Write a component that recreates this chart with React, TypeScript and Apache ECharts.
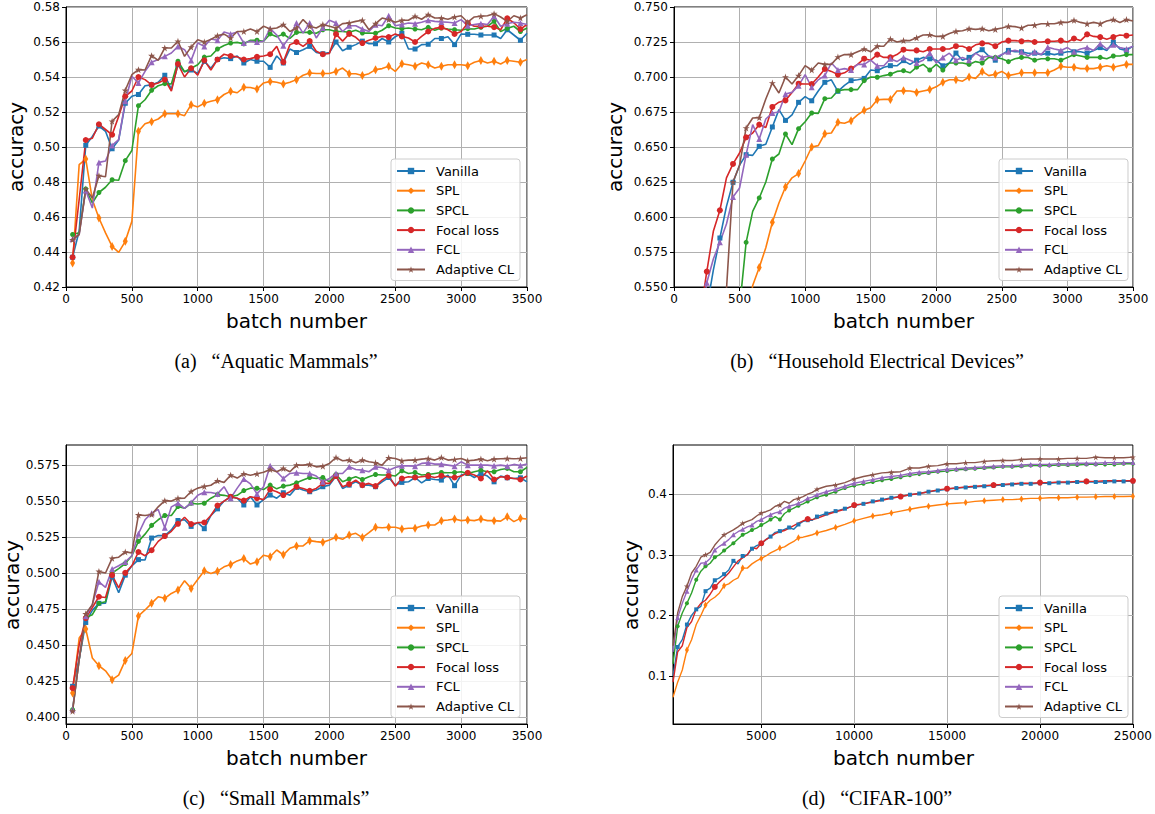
import React, { useEffect, useRef } from 'react';
import * as echarts from 'echarts';

// ---------- x values ----------
const X_ABC: number[] = Array.from({ length: 70 }, (_, i) => 50 + 50 * i);
const X_D: number[] = [
  ...Array.from({ length: 32 }, (_, i) => 250 + 250 * i),
  ...Array.from({ length: 34 }, (_, i) => 8500 + 500 * i),
];

const NAMES = ['Vanilla', 'SPL', 'SPCL', 'Focal loss', 'FCL', 'Adaptive CL'];
const COLORS = ['#1f77b4', '#ff7f0e', '#2ca02c', '#d62728', '#9467bd', '#8c564b'];

// ---------- (a) Aquatic Mammals ----------
const A_VANILLA = [.437, .452, .501, .506, .512, .509, .499, .504, .525, .529, .530, .535, .5355, .537, .541, .533, .547, .543, .544, .542, .549, .545, .550, .551, .5505, .552, .548, .550, .549, .549, .5455, .552, .548, .556, .554, .5556, .5575, .554, .5533, .554, .560, .555, .557, .5585, .5605, .559, .559, .562, .560, .563, .565, .556, .556, .5585, .5587, .562, .562, .563, .5585, .5646, .5644, .5644, .564, .564, .564, .562, .567, .564, .561, .565];
const A_SPL = [.4337, .4899, .4931, .4699, .4594, .4509, .4432, .4398, .4461, .4575, .509, .5133, .5145, .516, .519, .519, .519, .5179, .5242, .5229, .525, .5261, .527, .530, .5318, .531, .5341, .534, .5331, .5366, .5375, .537, .536, .537, .5385, .541, .5423, .542, .542, .542, .5432, .5451, .5419, .5419, .5408, .5419, .5442, .5448, .5461, .5432, .5476, .547, .5461, .548, .547, .5451, .5461, .547, .547, .547, .5465, .5484, .5494, .548, .549, .5474, .5495, .549, .5484, .550];
const A_SPCL = [.450, .451, .476, .468, .474, .477, .4813, .481, .4922, .498, .5236, .527, .5324, .535, .5362, .536, .549, .543, .545, .547, .5514, .552, .556, .558, .5594, .5598, .5589, .561, .561, .5604, .5646, .563, .5645, .562, .5655, .5655, .5655, .565, .567, .567, .566, .566, .5656, .5667, .5651, .5651, .565, .5667, .5693, .568, .5676, .568, .5674, .567, .5684, .5667, .568, .5674, .567, .5667, .5676, .5674, .5684, .569, .5718, .566, .5678, .569, .566, .568];
const A_FOCAL = [.437, .47, .504, .505, .513, .510, .507, .5175, .529, .532, .540, .5385, .5355, .5366, .5385, .532, .5474, .540, .545, .541, .5495, .544, .550, .553, .552, .5515, .550, .5505, .5515, .552, .553, .5575, .5485, .5585, .560, .5575, .5605, .5547, .553, .5535, .5645, .5605, .5646, .5627, .5594, .561, .5623, .5632, .5628, .5646, .5632, .5623, .560, .5632, .566, .5678, .5684, .567, .5646, .566, .5707, .569, .569, .569, .5685, .567, .5735, .571, .5674, .570];
const A_FCL = [.4474, .450, .4752, .4651, .4912, .492, .5009, .5042, .5261, .5404, .5366, .5432, .5484, .550, .5518, .5537, .5575, .5556, .5495, .5594, .5575, .5617, .561, .5657, .5646, .5657, .5594, .5604, .560, .5604, .5676, .564, .5579, .5632, .5709, .5651, .5709, .5623, .568, .5724, .5709, .566, .5693, .5693, .5674, .566, .5699, .5693, .575, .5693, .570, .5709, .5705, .5713, .5724, .5718, .5715, .5713, .5709, .5728, .5693, .570, .5705, .570, .5747, .569, .5705, .5713, .5709, .570];
const A_ADAPT = [.447, .450, .476, .4709, .4836, .483, .5147, .5185, .5324, .5413, .5442, .544, .5522, .5495, .5566, .5566, .5604, .5518, .5571, .5613, .560, .5615, .5636, .5645, .5623, .566, .566, .5674, .566, .569, .5675, .568, .5699, .566, .568, .5728, .569, .568, .570, .569, .568, .5705, .5709, .5718, .5724, .567, .5705, .5737, .5728, .5713, .5724, .5724, .5747, .573, .5756, .5737, .5737, .573, .5743, .575, .5713, .5743, .5747, .575, .5762, .5743, .5718, .575, .5737, .5756];

// ---------- (b) Household Electrical Devices ----------
const B_VANILLA = [null, null, null, null, .535, .562, .585, .6076, .6248, .637, .6445, .644, .6505, .652, .6643, .6767, .669, .673, .6819, .686, .683, .690, .6962, .698, .6898, .694, .6974, .698, .699, .705, .7045, .707, .7081, .708, .7117, .709, .712, .714, .713, .712, .708, .710, .7171, .712, .714, .717, .7195, .715, .712, .716, .719, .718, .718, .717, .717, .716, .717, .716, .717, .718, .718, .718, .717, .719, .721, .719, .725, .720, .719, .722];
const B_SPL = [null, null, null, null, null, null, null, null, null, null, .52, .551, .564, .578, .5962, .610, .6214, .628, .631, .640, .650, .651, .6595, .660, .6676, .667, .6688, .673, .6762, .678, .6838, .684, .684, .690, .6902, .690, .689, .690, .691, .693, .6962, .698, .698, .697, .700, .699, .704, .701, .702, .704, .701, .702, .703, .703, .703, .703, .703, .705, .7076, .707, .707, .706, .706, .706, .707, .708, .707, .708, .709, .709];
const B_SPCL = [null, null, null, null, null, null, null, null, null, .535, .5819, .604, .6136, .625, .6414, .645, .6593, .6517, .6631, .668, .6743, .674, .6845, .685, .6902, .691, .691, .691, .6974, .700, .6998, .701, .702, .704, .7045, .703, .707, .709, .705, .709, .705, .710, .710, .710, .709, .711, .710, .714, .714, .713, .711, .713, .714, .714, .712, .713, .713, .713, .712, .714, .716, .715, .714, .714, .714, .713, .715, .715, .716, .716];
const B_FOCAL = [null, null, null, .53, .561, .5898, .6048, .6279, .6379, .6457, .6569, .660, .666, .664, .6786, .682, .6833, .689, .6952, .695, .695, .700, .7057, .704, .7017, .703, .706, .709, .7131, .712, .716, .714, .714, .716, .7195, .719, .719, .718, .720, .720, .720, .720, .722, .722, .720, .723, .724, .724, .722, .725, .726, .726, .7255, .726, .725, .725, .7255, .7255, .726, .725, .7275, .726, .7305, .729, .7285, .727, .7285, .730, .7295, .730];
const B_FCL = [null, null, null, .52, .553, .570, .5819, .595, .6143, .6207, .6445, .666, .6557, .670, .6743, .675, .6879, .689, .6938, .7017, .6926, .698, .701, .710, .705, .706, .705, .709, .709, .712, .708, .708, .713, .711, .714, .712, .710, .712, .7171, .710, .714, .717, .7119, .714, .712, .717, .714, .715, .714, .716, .718, .719, .718, .715, .718, .716, .7212, .720, .719, .721, .718, .720, .721, .719, .7238, .720, .723, .721, .720, .722];
const B_ADAPT = [null, null, null, null, null, null, .30, .548, .625, .637, .6636, .6707, .671, .6843, .6957, .6886, .700, .695, .701, .7081, .705, .710, .709, .709, .7143, .716, .716, .718, .720, .718, .722, .722, .7271, .725, .726, .726, .728, .730, .7302, .729, .729, .731, .7326, .733, .7345, .734, .7345, .733, .734, .735, .7362, .736, .735, .737, .737, .738, .738, .738, .739, .739, .7405, .739, .738, .739, .738, .740, .741, .739, .741, .740];

// ---------- (c) Small Mammals ----------
const C_VANILLA = [.4212, .44, .4656, .474, .4789, .479, .4973, .4863, .4985, .505, .5093, .509, .5243, .526, .526, .530, .5365, .537, .5324, .535, .5308, .540, .5446, .550, .5531, .552, .5473, .553, .5473, .551, .5542, .552, .5558, .554, .5595, .5577, .5565, .5577, .560, .5611, .5674, .5588, .5611, .5634, .5611, .5611, .560, .5634, .5664, .5611, .563, .5634, .5664, .5627, .5657, .565, .5646, .5681, .5607, .5681, .5692, .5664, .5692, .5674, .5634, .5674, .5662, .5657, .5662, .5634];
const C_SPL = [.4166, .4548, .461, .4409, .4355, .432, .4258, .429, .4392, .444, .4701, .4743, .4789, .4835, .4824, .4858, .4881, .4946, .4893, .4955, .5015, .4997, .5013, .5043, .5059, .5084, .5101, .5062, .5078, .5124, .5113, .516, .5126, .5172, .5188, .5188, .5225, .5218, .5213, .5229, .5248, .5234, .5264, .5276, .5246, .5281, .5318, .5315, .5318, .5318, .5306, .5311, .5311, .5327, .5334, .5334, .5364, .5368, .5375, .5364, .5368, .5364, .5375, .5364, .5364, .5361, .5391, .5357, .538, .5375];
const C_SPCL = [.405, .440, .469, .471, .4789, .480, .500, .503, .5066, .512, .522, .527, .5331, .537, .540, .540, .5462, .545, .5485, .548, .5485, .552, .5545, .554, .553, .554, .5573, .559, .5589, .558, .5611, .5585, .5604, .5611, .5627, .5646, .5664, .5657, .5664, .5634, .5685, .5634, .5653, .5669, .565, .5669, .5685, .5681, .5681, .5674, .5711, .5692, .5699, .5681, .5685, .5692, .5699, .5697, .5699, .5704, .5692, .5704, .5715, .5704, .5704, .572, .5727, .5704, .5704, .5734];
const C_FOCAL = [.420, .450, .4686, .476, .4835, .483, .4985, .4897, .5001, .505, .5146, .512, .5158, .522, .5257, .529, .5342, .5388, .534, .535, .5351, .540, .5469, .550, .553, .552, .5503, .553, .5521, .551, .5581, .5565, .5542, .5565, .560, .5588, .5572, .5588, .5623, .5623, .5674, .560, .5618, .5646, .5611, .5623, .5604, .5646, .5676, .5604, .5657, .5669, .5664, .5669, .5674, .5664, .5676, .5669, .5664, .5674, .5697, .5681, .5657, .5711, .565, .5669, .5664, .5657, .565, .5674];
const C_FCL = [.405, .440, .470, .478, .4939, .490, .5027, .505, .5077, .512, .5273, .537, .5416, .5441, .5314, .546, .5485, .545, .549, .554, .5561, .556, .555, .560, .552, .559, .5653, .562, .555, .560, .5745, .5704, .5657, .5692, .5697, .5692, .5692, .5674, .5634, .5657, .5692, .5692, .5738, .572, .5715, .5704, .5738, .5734, .5715, .5734, .5745, .5745, .5743, .5762, .5766, .5757, .5757, .575, .5743, .5773, .575, .575, .575, .575, .5745, .575, .5743, .5755, .5748, .5757];
const C_ADAPT = [.4039, .440, .4716, .478, .5011, .500, .5102, .511, .5146, .514, .5404, .540, .5407, .546, .5503, .550, .5519, .552, .5567, .559, .5602, .561, .5641, .563, .568, .566, .569, .568, .569, .570, .572, .5704, .5727, .5704, .575, .575, .5755, .5738, .5743, .5762, .5803, .578, .5785, .5766, .5785, .5773, .5766, .575, .5801, .5796, .578, .5785, .5785, .5792, .5796, .5785, .5803, .5785, .5789, .5796, .578, .5785, .5792, .578, .5792, .5794, .5796, .5794, .5796, .5801];

// ---------- (d) CIFAR-100 ----------
const D_VANILLA = [0.10, 0.148, 0.16, 0.185, 0.20, 0.21, 0.215, 0.24, 0.245, 0.258, 0.262, 0.268, 0.275, 0.29, 0.285, 0.298, 0.30, 0.31, 0.315, 0.318, 0.325, 0.33, 0.337, 0.339, 0.342, 0.345, 0.342, 0.35, 0.355, 0.357, 0.357, 0.363, 0.368, 0.372, 0.376, 0.381, 0.384, 0.388, 0.391, 0.394, 0.396, 0.399, 0.401, 0.404, 0.406, 0.408, 0.41, 0.411, 0.412, 0.413, 0.414, 0.415, 0.416, 0.417, 0.417, 0.418, 0.418, 0.419, 0.419, 0.42, 0.42, 0.42, 0.42, 0.421, 0.421, 0.421];
const D_SPL = [0.065, 0.09, 0.11, 0.143, 0.16, 0.185, 0.20, 0.217, 0.225, 0.23, 0.237, 0.249, 0.252, 0.258, 0.262, 0.278, 0.278, 0.285, 0.29, 0.294, 0.298, 0.303, 0.307, 0.311, 0.313, 0.318, 0.322, 0.328, 0.329, 0.331, 0.333, 0.336, 0.34, 0.345, 0.35, 0.356, 0.36, 0.364, 0.366, 0.369, 0.372, 0.375, 0.378, 0.38, 0.382, 0.384, 0.385, 0.386, 0.388, 0.389, 0.39, 0.391, 0.391, 0.392, 0.393, 0.393, 0.394, 0.394, 0.394, 0.395, 0.395, 0.3955, 0.396, 0.396, 0.396, 0.3966];
const D_SPCL = [0.12, 0.182, 0.204, 0.22, 0.237, 0.259, 0.273, 0.281, 0.286, 0.296, 0.3, 0.307, 0.313, 0.319, 0.326, 0.333, 0.336, 0.341, 0.344, 0.349, 0.353, 0.358, 0.363, 0.358, 0.368, 0.373, 0.377, 0.381, 0.384, 0.388, 0.391, 0.395, 0.399, 0.404, 0.41, 0.414, 0.417, 0.42, 0.423, 0.425, 0.428, 0.431, 0.433, 0.435, 0.437, 0.438, 0.44, 0.441, 0.442, 0.443, 0.444, 0.445, 0.445, 0.446, 0.447, 0.447, 0.447, 0.448, 0.448, 0.448, 0.449, 0.449, 0.449, 0.449, 0.45, 0.45];
const D_FOCAL = [0.09, 0.14, 0.15, 0.18, 0.19, 0.21, 0.22, 0.225, 0.235, 0.247, 0.255, 0.262, 0.27, 0.28, 0.29, 0.295, 0.30, 0.312, 0.31, 0.319, 0.325, 0.33, 0.335, 0.338, 0.34, 0.344, 0.348, 0.352, 0.356, 0.359, 0.358, 0.36, 0.366, 0.371, 0.375, 0.382, 0.384, 0.387, 0.39, 0.393, 0.396, 0.399, 0.401, 0.404, 0.407, 0.409, 0.41, 0.412, 0.413, 0.414, 0.415, 0.416, 0.417, 0.418, 0.418, 0.419, 0.419, 0.42, 0.42, 0.421, 0.421, 0.421, 0.422, 0.422, 0.422, 0.422];
const D_FCL = [0.14, 0.196, 0.22, 0.24, 0.259, 0.275, 0.286, 0.287, 0.294, 0.308, 0.314, 0.319, 0.325, 0.333, 0.338, 0.342, 0.346, 0.349, 0.355, 0.358, 0.362, 0.366, 0.369, 0.371, 0.377, 0.38, 0.382, 0.385, 0.388, 0.393, 0.395, 0.399, 0.404, 0.408, 0.413, 0.418, 0.421, 0.424, 0.427, 0.429, 0.431, 0.434, 0.436, 0.437, 0.439, 0.441, 0.442, 0.443, 0.444, 0.445, 0.446, 0.447, 0.447, 0.448, 0.449, 0.449, 0.449, 0.45, 0.45, 0.451, 0.451, 0.451, 0.452, 0.452, 0.452, 0.452];
const D_ADAPT = [0.15, 0.204, 0.231, 0.248, 0.27, 0.281, 0.296, 0.30, 0.304, 0.316, 0.325, 0.333, 0.337, 0.341, 0.346, 0.352, 0.355, 0.358, 0.364, 0.369, 0.371, 0.374, 0.38, 0.382, 0.388, 0.385, 0.391, 0.393, 0.396, 0.4, 0.403, 0.408, 0.413, 0.415, 0.419, 0.425, 0.429, 0.432, 0.435, 0.436, 0.437, 0.443, 0.443, 0.446, 0.447, 0.45, 0.45, 0.452, 0.452, 0.454, 0.455, 0.4555, 0.4555, 0.457, 0.458, 0.458, 0.458, 0.458, 0.459, 0.459, 0.459, 0.461, 0.46, 0.46, 0.46, 0.461];

const PANEL_A = [A_VANILLA, A_SPL, A_SPCL, A_FOCAL, A_FCL, A_ADAPT];
const PANEL_B = [B_VANILLA, B_SPL, B_SPCL, B_FOCAL, B_FCL, B_ADAPT];
const PANEL_C = [C_VANILLA, C_SPL, C_SPCL, C_FOCAL, C_FCL, C_ADAPT];
const PANEL_D = [D_VANILLA, D_SPL, D_SPCL, D_FOCAL, D_FCL, D_ADAPT];
const D_MARK_EVERY = [500, 1000, 500, 2500, 500, 1000];

const X_TICKS_D = [5000, 10000, 15000, 20000, 25000];
const Y_TICKS_C = [0.4, 0.425, 0.45, 0.475, 0.5, 0.525, 0.55, 0.575];
const Y_TICKS_D = [0.1, 0.2, 0.3, 0.4];

const STAR = 'path://M0,-10L2.24,-3.09L9.51,-3.09L3.63,1.18L5.88,8.09L0,3.82L-5.88,8.09L-3.63,1.18L-9.51,-3.09L-2.24,-3.09Z';
const THIN_DIAMOND = 'path://M0,-10L6,0L0,10L-6,0Z';
const SYMBOLS = ['rect', THIN_DIAMOND, 'circle', 'circle', 'triangle', STAR];
const SIZES_ABC: any[] = [5, [5, 9], 5, 6, 6, 7];
const SIZES_D: any[] = [4, [4, 7], 4, 6, 5, 6];

const FONT = 'DejaVu Sans';

function axisCommon() {
  return {
    axisLine: { show: true, onZero: false, lineStyle: { color: '#000', width: 1 } },
    axisTick: { show: true, length: 4, lineStyle: { color: '#000', width: 1 } },
    splitLine: { show: true, lineStyle: { color: '#b0b0b0', width: 1 } },
  };
}

function labelStyle(fmt: (v: number) => string) {
  return {
    color: '#000', fontSize: 12, fontFamily: FONT, margin: 6,
    showMinLabel: true, showMaxLabel: true, formatter: fmt,
  };
}

function buildOption() {
  const grids = [
    { left: 66, top: 7, width: 461, height: 280 },
    { left: 674, top: 7, width: 459, height: 280 },
    { left: 66, top: 445, width: 461, height: 279 },
    { left: 673, top: 445, width: 461, height: 279 },
  ].map((g) => ({ ...g, show: true, borderColor: '#000', borderWidth: 1, backgroundColor: 'transparent' }));

  const xAxes: any[] = [0, 1, 2].map((i) => ({
    type: 'value', gridIndex: i, min: 0, max: 3500, interval: 500,
    ...axisCommon(),
    axisLabel: labelStyle((v: number) => String(v)),
  }));
  xAxes.push({
    type: 'value', gridIndex: 3, min: 250, max: 25000,
    ...axisCommon(),
    axisTick: { show: true, length: 4, lineStyle: { color: '#000', width: 1 }, customValues: X_TICKS_D },
    axisLabel: { ...labelStyle((v: number) => String(v)), customValues: X_TICKS_D },
  });

  const yAxes: any[] = [
    {
      type: 'value', gridIndex: 0, min: 0.42, max: 0.58, interval: 0.02,
      ...axisCommon(), axisLabel: labelStyle((v: number) => v.toFixed(2)),
    },
    {
      type: 'value', gridIndex: 1, min: 0.55, max: 0.75, interval: 0.025,
      ...axisCommon(), axisLabel: labelStyle((v: number) => v.toFixed(3)),
    },
    {
      type: 'value', gridIndex: 2, min: 0.395, max: 0.589,
      ...axisCommon(),
      axisTick: { show: true, length: 4, lineStyle: { color: '#000', width: 1 }, customValues: Y_TICKS_C },
      axisLabel: { ...labelStyle((v: number) => v.toFixed(3)), customValues: Y_TICKS_C },
    },
    {
      type: 'value', gridIndex: 3, min: 0.021, max: 0.481,
      ...axisCommon(),
      axisTick: { show: true, length: 4, lineStyle: { color: '#000', width: 1 }, customValues: Y_TICKS_D },
      axisLabel: { ...labelStyle((v: number) => v.toFixed(1)), customValues: Y_TICKS_D },
    },
  ];

  const series: any[] = [];
  [PANEL_A, PANEL_B, PANEL_C].forEach((panel, pi) => {
    panel.forEach((vals, si) => {
      const size = SIZES_ABC[si];
      series.push({
        type: 'line', name: NAMES[si], xAxisIndex: pi, yAxisIndex: pi,
        data: X_ABC.map((x, k) => [x, vals[k]]),
        symbol: SYMBOLS[si],
        symbolSize: (_v: any, p: any) => (p.dataIndex % 2 === 0 ? size : 0),
        showSymbol: true, showAllSymbol: true,
        color: COLORS[si],
        itemStyle: { color: COLORS[si] },
        lineStyle: { color: COLORS[si], width: 1.6 },
        clip: true, connectNulls: false,
      });
    });
  });
  PANEL_D.forEach((vals, si) => {
    const size = SIZES_D[si];
    const every = D_MARK_EVERY[si];
    series.push({
      type: 'line', name: NAMES[si], xAxisIndex: 3, yAxisIndex: 3,
      data: X_D.map((x, k) => [x, vals[k]]),
      symbol: SYMBOLS[si],
      symbolSize: (v: any) => (v[0] % every === 0 ? size : 0),
      showSymbol: true, showAllSymbol: true,
      color: COLORS[si],
      itemStyle: { color: COLORS[si] },
      lineStyle: { color: COLORS[si], width: 1.4 },
      clip: true,
    });
  });

  const legendPos = [
    { left: 391, top: 159 },
    { left: 999, top: 159 },
    { left: 391, top: 596 },
    { left: 999, top: 596 },
  ];
  const legend = legendPos.map((p) => ({
    ...p,
    orient: 'vertical',
    data: NAMES,
    itemWidth: 28, itemHeight: 8, itemGap: 5.7,
    padding: [5, 6, 4, 5],
    backgroundColor: 'rgba(255,255,255,0.85)',
    borderColor: '#cccccc', borderWidth: 1, borderRadius: 3,
    selectedMode: false,
    textStyle: { fontFamily: FONT, fontSize: 13, color: '#000', lineHeight: 14, padding: [0, 0, 0, 6] },
  }));

  const txt = (x: number, y: number, text: string, size: number, family: string, rot = 0) => ({
    type: 'text', x, y, rotation: rot, silent: true,
    style: { text, fontSize: size, fontFamily: family, fill: '#000', align: 'center', verticalAlign: 'middle' },
  });

  const graphic = [
    txt(16, 147, 'accuracy', 20, FONT, Math.PI / 2),
    txt(615, 147, 'accuracy', 20, FONT, Math.PI / 2),
    txt(12, 585, 'accuracy', 20, FONT, Math.PI / 2),
    txt(631, 585, 'accuracy', 20, FONT, Math.PI / 2),
    txt(296.5, 321, 'batch number', 20, FONT),
    txt(903.5, 321, 'batch number', 20, FONT),
    txt(296.5, 758, 'batch number', 20, FONT),
    txt(903.5, 758, 'batch number', 20, FONT),
    txt(276, 361, '(a)\u2002 \u201CAquatic Mammals\u201D', 20, 'Liberation Serif'),
    txt(877, 361, '(b)\u2002 \u201CHousehold Electrical Devices\u201D', 20, 'Liberation Serif'),
    txt(276, 798, '(c)\u2002 \u201CSmall Mammals\u201D', 20, 'Liberation Serif'),
    txt(877, 798, '(d)\u2002 \u201CCIFAR-100\u201D', 20, 'Liberation Serif'),
  ];

  return {
    animation: false,
    backgroundColor: '#fff',
    grid: grids,
    xAxis: xAxes,
    yAxis: yAxes,
    legend,
    series,
    graphic,
  };
}

export default function App() {
  const ref = useRef<HTMLDivElement>(null);
  useEffect(() => {
    if (!ref.current) return;
    const chart = echarts.init(ref.current, null, { renderer: 'svg' });
    chart.setOption(buildOption() as any);
    return () => chart.dispose();
  }, []);
  return (
    <div
      ref={ref}
      style={{ position: 'fixed', left: 0, top: 0, width: 1155, height: 814, background: '#fff' }}
    />
  );
}
